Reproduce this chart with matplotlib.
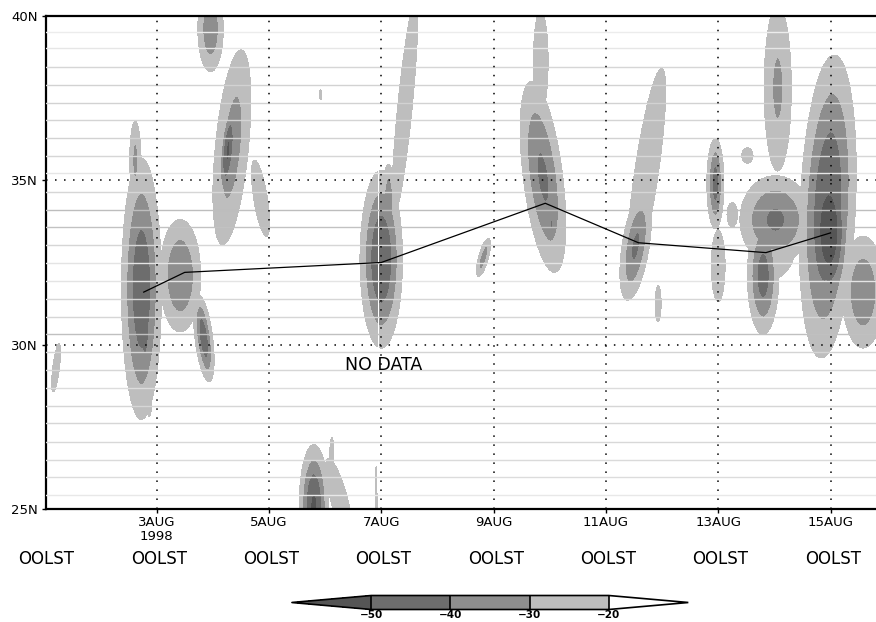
import numpy as np
import matplotlib
matplotlib.use("Agg")
import matplotlib.pyplot as plt
from matplotlib.colors import ListedColormap, BoundaryNorm
import matplotlib.cm as cm

# black track: day of August 1998 (00LST = .0) and latitude
track_day = [2.77, 3.50, 7.00, 9.92, 11.58, 13.85, 15.00]
track_lat = [31.6, 32.2, 32.5, 34.3, 33.1, 32.8, 33.4]

# convective cells (centre day, centre lat, spread in day,
# spread in lat, minimum value, day shift per degree lat)
cell_day = [1.21, 2.73, 2.79, 2.62, 2.87, 3.42, 3.84, 3.96, 4.34, 4.27,
            4.85, 5.92, 5.80, 6.25, 6.12, 6.91, 7.42, 7.00, 7.13, 8.82,
            9.88, 10.03, 9.84, 11.72, 11.53, 11.93, 12.95, 13.00, 13.25, 13.80,
            14.06, 13.52, 14.95, 14.97, 15.58, 14.02, 14.00]
cell_lat = [29.3, 31.7, 30.6, 35.6, 28.3, 32.1, 30.2, 39.6, 36.0, 35.9,
            34.45, 37.6, 25.1, 25.3, 26.7, 25.0, 37.2, 32.6, 34.3, 32.65,
            35.1, 33.65, 38.6, 35.2, 33.0, 31.25, 34.9, 32.4, 33.95, 32.1,
            37.8, 35.75, 34.2, 33.5, 31.6, 33.8, 33.5]
cell_sday = [0.09, 0.27, 0.10, 0.10, 0.07, 0.31, 0.12, 0.20, 0.28, 0.11,
             0.17, 0.04, 0.19, 0.20, 0.06, 0.012, 0.18, 0.28, 0.10, 0.08,
             0.29, 0.05, 0.17, 0.26, 0.20, 0.09, 0.12, 0.17, 0.14, 0.22,
             0.25, 0.15, 0.366, 0.265, 0.33, 0.52, 0.55]
cell_slat = [1.1, 3.0, 1.3, 1.2, 0.8, 1.45, 1.0, 1.15, 2.8, 1.1,
             1.6, 0.3, 1.35, 1.6, 0.8, 1.1, 4.5, 2.0, 1.0, 0.51,
             2.38, 0.35, 2.0, 3.9, 1.35, 0.9, 1.08, 1.5, 0.55, 1.4,
             2.6, 0.35, 3.4, 1.75, 1.5, 1.1, 1.9]
cell_amp = [-25, -48, -50, -33, -24, -40, -48, -38, -35, -52,
            -26, -23, -52, -27, -24, -45, -26, -50, -40, -38,
            -42, -44, -27, -28, -42, -24, -45, -26, -25, -45,
            -32, -25, -50, -60, -38, -42, -27]
cell_tilt = [0.07, 0, 0, 0, 0, 0, -0.07, 0, 0.055, 0.055,
             -0.09, 0, 0, -0.15, 0, 0, 0.058, 0, 0, 0.15,
             -0.07, 0, 0, 0.085, 0.085, 0, 0, 0, 0, 0,
             0, 0, 0.025, 0, 0, 0, 0]

# time with no data around 7AUG
gap_days = [6.94, 6.975]

levels = [-50, -40, -30, -20]
fill_colors = ["#6d6d6d", "#8e8e8e", "#bebebe"]
under_color = "#555555"

day_ticks = [3, 5, 7, 9, 11, 13, 15]
day_labels = ["3AUG\n1998", "5AUG", "7AUG", "9AUG", "11AUG", "13AUG", "15AUG"]
lst_days = [1, 3, 5, 7, 9, 11, 13, 15]
lat_ticks = [25, 30, 35, 40]
lat_labels = ["25N", "30N", "35N", "40N"]

# faint latitude rows of the data grid
grid_lats = [39.51, 39.01, 38.45, 37.90, 37.35, 36.82, 36.27, 35.73, 35.21,
             34.65, 34.11, 33.57, 33.02, 32.47, 31.93, 31.40, 30.85, 30.32,
             29.77, 29.23, 28.69, 28.15, 27.61, 27.05, 26.51, 25.97, 25.42]
grid_grey = ["#ececec", "#e6e6e6", "#d6d6d6", "#d2d2d2", "#d2d2d2", "#d4d4d4",
             "#d2d2d2", "#d6d6d6", "#e6e6e6", "#d6d6d6", "#bdbdbd", "#c2c2c2",
             "#d6d6d6", "#e4e4e4", "#e4e4e4", "#d6d6d6", "#d6d6d6", "#c0c0c0",
             "#d4d4d4", "#d6d6d6", "#dcdcdc", "#d6d6d6", "#d6d6d6", "#d8d8d8",
             "#dadada", "#dcdcdc", "#e8e8e8"]

# build the field
t = np.linspace(1.0, 15.9, 1200)
la = np.linspace(24.9, 40.1, 600)
T, L = np.meshgrid(t, la)
field = np.zeros_like(T)
for d0, l0, sd, sl, a, k in zip(cell_day, cell_lat, cell_sday, cell_slat, cell_amp, cell_tilt):
    q = ((T - d0 - k * (L - l0)) / sd) ** 2 + ((L - l0) / sl) ** 2
    field = np.minimum(field, a * np.exp(-0.5 * q))
field[:, (t > gap_days[0]) & (t < gap_days[1])] = np.nan
field = np.ma.masked_invalid(field)

fig = plt.figure(figsize=(8.76, 6.22), dpi=100)
ax = fig.add_axes([46 / 876, 112.7 / 622, 1 - 46 / 876, 493.6 / 622])

cs = ax.contourf(t, la, field, levels=levels, colors=fill_colors, extend="min", zorder=2)
cs.cmap.set_under(under_color)
cs.changed()

for gl, gc in zip(grid_lats, grid_grey):
    ax.axhline(gl, color=gc, lw=1.0, zorder=3)

for d in day_ticks:
    ax.axvline(d, color="black", lw=1.1, dashes=(1, 4.9), zorder=4)
for y in [30, 35]:
    ax.axhline(y, color="black", lw=1.1, dashes=(1, 4.9), zorder=4)

ax.plot(track_day, track_lat, color="black", lw=0.9, zorder=5)

ax.text(7.05, 29.4, "NO DATA", fontsize=12.5, ha="center", va="center", zorder=6)

ax.set_xlim(1.03, 15.81)
ax.set_ylim(25, 40)
ax.set_xticks(day_ticks)
ax.set_xticklabels(day_labels, fontsize=9.5, linespacing=1.15)
ax.set_yticks(lat_ticks)
ax.set_yticklabels(lat_labels, fontsize=9.5)
ax.tick_params(axis="x", length=3, width=1, pad=1.5, direction="out")
ax.tick_params(axis="y", length=3, width=1, pad=3, direction="out")
for s in ["left", "bottom", "top"]:
    ax.spines[s].set_linewidth(1.6)
ax.spines["right"].set_visible(False)

tr = ax.get_xaxis_transform()
for d in lst_days:
    ax.text(d + 0.04, -0.1007, "OOLST", fontsize=12, ha="center", va="center",
            transform=tr, clip_on=False)

# colour bar
cax = fig.add_axes([291.7 / 876, 12.5 / 622, 396.6 / 876, 14.0 / 622])
cmap = ListedColormap(fill_colors)
cmap.set_under(under_color)
cmap.set_over("white")
norm = BoundaryNorm(levels, cmap.N)
sm = cm.ScalarMappable(norm=norm, cmap=cmap)
cb = fig.colorbar(sm, cax=cax, orientation="horizontal", extend="both",
                  extendfrac=0.335, drawedges=True)
cb.outline.set_linewidth(1.2)
cb.dividers.set_linewidth(1.2)
cb.set_ticks(levels)
cb.set_ticklabels(["\u221250", "\u221240", "\u221230", "\u221220"])
cax.tick_params(length=0, pad=0.3, labelsize=7.5)
for lb in cax.get_xticklabels():
    lb.set_fontweight("bold")

fig.savefig("out.png", dpi=100)
